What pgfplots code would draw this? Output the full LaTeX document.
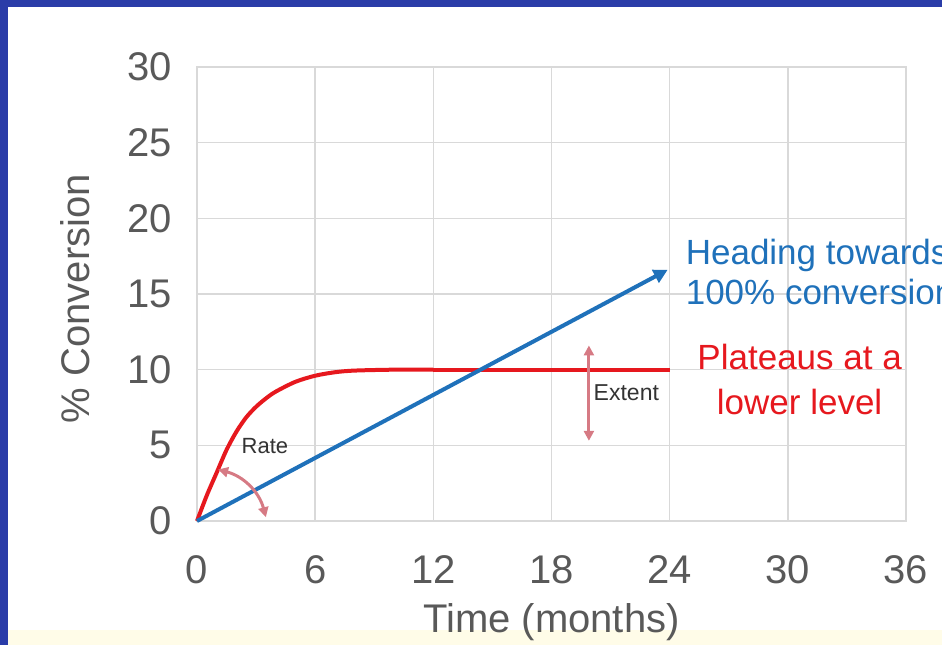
\documentclass[border=0pt]{standalone}
\usepackage{fontspec}
\setmainfont{Liberation Sans}
\usepackage{pgfplots}
\pgfplotsset{compat=1.18}
\usetikzlibrary{arrows.meta}
\definecolor{lineblue}{RGB}{31,113,186}
\definecolor{linered}{RGB}{230,24,30}
\definecolor{arrowpink}{RGB}{214,122,132}
\definecolor{gridgray}{RGB}{217,217,217}
\definecolor{textgray}{RGB}{89,89,89}
\definecolor{framebl}{RGB}{42,60,168}
\definecolor{cream}{RGB}{255,252,232}
\pgfdeclarelayer{background}
\pgfsetlayers{background,main}

\begin{document}
\begin{tikzpicture}
\begin{pgfonlayer}{background}
  \fill[cream] (-98.5pt,-62pt) rectangle (372.5pt,-54.5pt);
\end{pgfonlayer}
\begin{axis}[
    scale only axis,
    width=354.5pt, height=227pt,
    xmin=0, xmax=36, ymin=0, ymax=30,
    xtick={0,6,...,36}, ytick={0,5,...,30},
    grid=major,
    grid style={gridgray, line width=0.75pt},
    axis line style={gridgray, line width=0.75pt},
    tick style={draw=none},
    every tick label/.append style={inner sep=0pt},
    tick label style={font=\fontsize{20}{24}\selectfont, text=textgray},
    /pgf/number format/assume math mode=true,
    xticklabel shift=17pt,
    yticklabel shift=12.5pt,
    xlabel={Time (months)},
    ylabel={\% Conversion},
    label style={font=\fontsize{20}{24}\selectfont, text=textgray},
    xlabel style={at={(axis description cs:0.5,0)}, anchor=center, yshift=-50.5pt},
    ylabel style={at={(axis description cs:-0.172,0.49)}, anchor=center},
    clip=false,
]
% plateau curve
\addplot[linered, line width=2pt, smooth] coordinates {
  (0,0) (0.5,1.7) (1,3.2) (1.5,4.7) (2,5.9) (2.5,6.85) (3,7.55) (3.5,8.1)
  (4,8.55) (5,9.2) (6,9.6) (7,9.83) (8,9.94) (10,10) (12,10)
};
\addplot[linered, line width=2pt] coordinates {(12,10) (24,10)};
% steady growth
\addplot[lineblue, line width=2pt, -{Triangle[length=7pt,width=7pt]}] coordinates {
  (0,0) (23.9,16.6)
};

% annotations
\draw[arrowpink, line width=1.5pt, {Triangle[length=5pt,width=5pt]}-{Triangle[length=5pt,width=5pt]}]
  (axis cs:1.07,3.4) to[bend left=30] (axis cs:3.5,0.25);
\node[font=\fontsize{11}{13}\selectfont, text=black!80] at (axis cs:3.45,4.95) {Rate};
\draw[arrowpink, line width=1.5pt, {Triangle[length=5pt,width=5pt]}-{Triangle[length=5pt,width=5pt]}]
  (axis cs:19.9,11.6) -- (axis cs:19.9,5.3);
\node[font=\fontsize{11.5}{13}\selectfont, text=black!80] at (axis cs:21.8,8.5) {Extent};

\node[anchor=west, align=left, inner sep=0pt, text=lineblue,
      font=\fontsize{17.5}{20}\selectfont] at (axis cs:24.8,16.45)
  {Heading towards\\100\% conversion};
\node[align=center, inner sep=0pt, text=linered,
      font=\fontsize{17.5}{22.5}\selectfont] at (axis cs:30.6,9.35)
  {Plateaus at a\\lower level};
\end{axis}
\pgfresetboundingbox
\useasboundingbox (-98.5pt,-62pt) rectangle (372.5pt,260.5pt);
\fill[framebl] (-98.5pt,257pt) rectangle (372.5pt,260.5pt);
\fill[framebl] (-98.5pt,-62pt) rectangle (-94.5pt,260.5pt);
\end{tikzpicture}
\end{document}
